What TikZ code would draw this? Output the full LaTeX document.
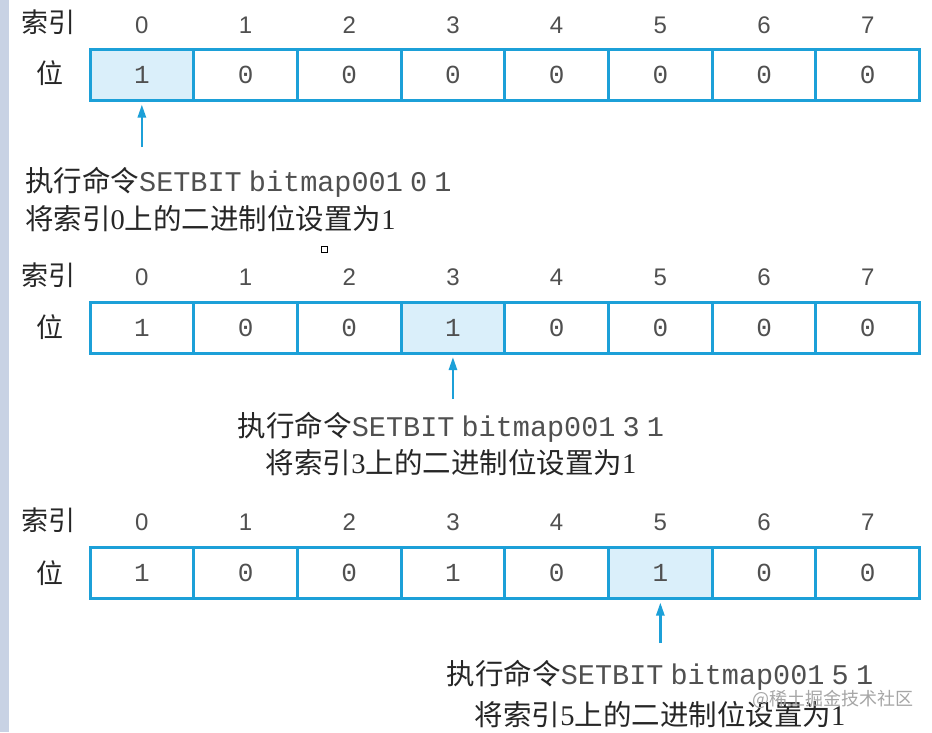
\documentclass[tikz,border=0pt]{standalone}
\usepackage{fontspec}
\setmainfont{Liberation Serif}
\newfontfamily\cjk{Noto Sans CJK SC}
\newfontfamily\cmd[WordSpace=0.42]{Liberation Mono}
\newfontfamily\idxfont{Liberation Sans}
\usetikzlibrary{arrows.meta}

\begin{document}
\begin{tikzpicture}[x=1pt, y=-1pt,
    cell/.style={draw=bit-blue, line width=3pt, minimum width=\w pt, minimum height=\h pt, inner sep=0pt,
        text=txt-grey, font=\cmd\fontsize{26}{26}\selectfont},
    idx/.style={text=txt-grey, font=\idxfont\fontsize{24}{24}\selectfont},
    rowlab/.style={text=black!85, font=\cjk\fontsize{27}{27}\selectfont},
    captext/.style={text=black!85, inner sep=0pt, font=\cjk\fontsize{28.5}{34}\selectfont},
    hint/.style={bit-blue, line width=2.5pt, -{Triangle[length=13pt,width=8pt]}, shorten >=2.5pt}]

    \def\w{103.7}
    \def\h{51}
    \def\xo{141.85}
    \definecolor{bit-blue}{RGB}{28,160,216}
    \definecolor{bit-fill}{RGB}{218,239,250}
    \definecolor{side-grey}{RGB}{200,210,228}
    \definecolor{txt-grey}{RGB}{80,80,80}

    \useasboundingbox (0,0) rectangle (932,732);
    \fill[white] (0,0) rectangle (932,732);
    \fill[side-grey] (0,0) rectangle (9,732);

    % first row: SETBIT 0
    \node [rowlab] (ka) at (48,22) {索引};
    \node [rowlab] (pa) at (50,73) {位};
    \foreach \i/\b/\f in {0/1/bit-fill,1/0/white,2/0/white,3/0/white,4/0/white,5/0/white,6/0/white,7/0/white}
        \node [cell, fill=\f] (a\i) at (\xo+\i*\w,75) {\b} node [idx] (ia\i) at (\xo+\i*\w,25) {\i};

    \coordinate (ta) at (\xo,147);
    \draw[hint] (ta) -- (a0.south);
    \node [captext, anchor=west] (ca1) at (25,182) {执行命令{\color{txt-grey}\cmd SETBIT bitmap001 0 1}};
    \node [captext, anchor=west] (ca2) at (25,219) {将索引{\rmfamily 0}上的二进制位设置为{\rmfamily 1}};

    \node [draw, line width=1pt, minimum size=6.5pt, inner sep=0pt] (sq) at (324.3,249.3) {};

    % second row: SETBIT 3
    \node [rowlab] (kb) at (48,275) {索引};
    \node [rowlab] (pb) at (50,327) {位};
    \foreach \i/\b/\f in {0/1/white,1/0/white,2/0/white,3/1/bit-fill,4/0/white,5/0/white,6/0/white,7/0/white}
        \node [cell, fill=\f] (b\i) at (\xo+\i*\w,327.5) {\b} node [idx] (ib\i) at (\xo+\i*\w,277) {\i};

    \coordinate (tb) at (\xo+3*\w,399);
    \draw[hint] (tb) -- (b3.south);
    \node [captext] (cb1) at (451,427) {执行命令{\color{txt-grey}\cmd SETBIT bitmap001 3 1}};
    \node [captext] (cb2) at (451,463) {将索引{\rmfamily 3}上的二进制位设置为{\rmfamily 1}};

    % third row: SETBIT 5
    \node [rowlab] (kc) at (48,520) {索引};
    \node [rowlab] (pc) at (50,573) {位};
    \foreach \i/\b/\f in {0/1/white,1/0/white,2/0/white,3/1/white,4/0/white,5/1/bit-fill,6/0/white,7/0/white}
        \node [cell, fill=\f] (c\i) at (\xo+\i*\w,573) {\b} node [idx] (ic\i) at (\xo+\i*\w,522) {\i};

    \coordinate (tc) at (\xo+5*\w,643);
    \draw[hint] (tc) -- (c5.south);
    \node [captext] (cc1) at (660,675) {执行命令{\color{txt-grey}\cmd SETBIT bitmap001 5 1}};
    \node [captext] (cc2) at (660,715) {将索引{\rmfamily 5}上的二进制位设置为{\rmfamily 1}};

    \node [text=black!35, font=\cjk\fontsize{18}{18}\selectfont] (wm) at (833,699) {@稀土掘金技术社区};

\end{tikzpicture}
\end{document}
